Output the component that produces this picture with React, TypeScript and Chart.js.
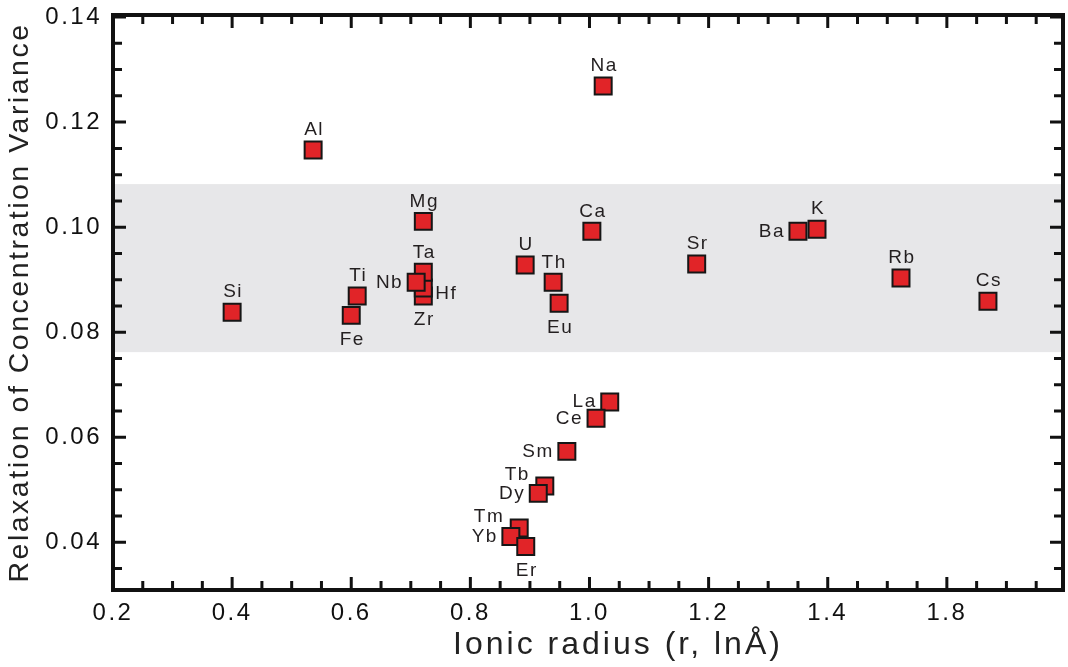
import React, { useEffect, useRef } from 'react';
import { Chart, registerables } from 'chart.js';

Chart.register(...registerables);

// ---- data ----
const elements = ['Si', 'Al', 'Na', 'Mg', 'Ti', 'Fe', 'Zr', 'Hf', 'Ta', 'Nb', 'U', 'Th', 'Eu', 'Ca', 'Sr', 'Ba', 'K', 'Rb', 'Cs', 'La', 'Ce', 'Sm', 'Tb', 'Dy', 'Tm', 'Yb', 'Er'];
const ionicRadius = [0.40, 0.536, 1.023, 0.721, 0.61, 0.60, 0.721, 0.721, 0.721, 0.709, 0.892, 0.939, 0.949, 1.004, 1.18, 1.35, 1.382, 1.523, 1.669, 1.034, 1.011, 0.962, 0.925, 0.914, 0.882, 0.868, 0.893];
const relaxation = [0.0838, 0.1147, 0.1269, 0.1011, 0.0869, 0.0832, 0.0869, 0.0884, 0.0914, 0.0895, 0.0928, 0.0895, 0.0855, 0.0992, 0.093, 0.0992, 0.0996, 0.0903, 0.0859, 0.0667, 0.0636, 0.0573, 0.0507, 0.0493, 0.0427, 0.0411, 0.0392];
const labelPlacement = ['top', 'top', 'top', 'top', 'top', 'bottom', 'bottom', 'lowright', 'top', 'left', 'top', 'top', 'bottom', 'top', 'top', 'left', 'top', 'top', 'top', 'left', 'left', 'left', 'upleft', 'left', 'upleft', 'left', 'bottom'];

const xTickValues = [0.2, 0.4, 0.6, 0.8, 1.0, 1.2, 1.4, 1.6];
const xTickLabels = ['0.2', '0.4', '0.6', '0.8', '1.0', '1.2', '1.4', '1.8'];
const yTickValues = [0.04, 0.06, 0.08, 0.10, 0.12, 0.14];
const yTickLabels = ['0.04', '0.06', '0.08', '0.10', '0.12', '0.14'];
const bandRange = [0.0762, 0.1082];
const xTitle = 'Ionic radius (r, lnÅ)';
const yTitle = 'Relaxation of Concentration Variance';

const FONT = '"Liberation Sans", Arial, Helvetica, sans-serif';

const framePlugin = {
  id: 'framePlugin',
  beforeDraw(chart: any) {
    (chart.ctx as any).letterSpacing = '2.5px';
  },
  beforeDatasetsDraw(chart: any) {
    const { ctx, chartArea, scales } = chart;
    const y = scales.y;
    const yTop = y.getPixelForValue(bandRange[1]);
    const yBot = y.getPixelForValue(bandRange[0]);
    ctx.save();
    ctx.fillStyle = '#e7e7e9';
    ctx.fillRect(chartArea.left, yTop, chartArea.right - chartArea.left, yBot - yTop);
    ctx.restore();
  },
  afterDatasetsDraw(chart: any) {
    const { ctx, chartArea, scales } = chart;
    const x = scales.x;
    const y = scales.y;
    const meta = chart.getDatasetMeta(0);
    ctx.save();
    // point labels
    (ctx as any).letterSpacing = '1.5px';
    ctx.font = `19px ${FONT}`;
    ctx.fillStyle = '#231f20';
    ctx.textBaseline = 'middle';
    meta.data.forEach((pt: any, i: number) => {
      const p = labelPlacement[i];
      let dx = 0, dy = 0, align: CanvasTextAlign = 'center';
      if (p === 'top') { dy = -20; }
      else if (p === 'bottom') { dy = 24; }
      else if (p === 'left') { dx = -13; align = 'right'; }
      else if (p === 'lowright') { dx = 12; dy = 6; align = 'left'; }
      else if (p === 'upleft') { dx = -15; dy = -11; align = 'right'; }
      ctx.textAlign = align;
      ctx.fillText(elements[i], pt.x + dx + (align === 'center' ? 1 : 0), pt.y + dy);
    });
    ctx.restore();

    // x axis title (offset to the right as in the original figure)
    ctx.save();
    (ctx as any).letterSpacing = '3px';
    ctx.font = `32px ${FONT}`;
    ctx.fillStyle = '#222';
    ctx.textAlign = 'center';
    ctx.textBaseline = 'middle';
    ctx.fillText(xTitle, (chartArea.left + chartArea.right) / 2 + 30, chartArea.bottom + 55);
    ctx.restore();

    // ticks + frame
    ctx.save();
    ctx.strokeStyle = '#111';
    ctx.lineWidth = 3;
    ctx.beginPath();
    for (let k = 5; k <= 35; k++) {
      const v = k * 0.05;
      if (v > x.max) break;
      const px = x.getPixelForValue(v);
      const len = k % 4 === 0 ? 13 : 9;
      ctx.moveTo(px, chartArea.bottom);
      ctx.lineTo(px, chartArea.bottom - len);
      ctx.moveTo(px, chartArea.top);
      ctx.lineTo(px, chartArea.top + len);
    }
    for (let k = 7; k <= 28; k++) {
      const v = k * 0.005;
      const py = y.getPixelForValue(v);
      const len = k % 4 === 0 ? 13 : 9;
      ctx.moveTo(chartArea.left, py);
      ctx.lineTo(chartArea.left + len, py);
      ctx.moveTo(chartArea.right, py);
      ctx.lineTo(chartArea.right - len, py);
    }
    ctx.stroke();
    ctx.lineWidth = 4;
    ctx.strokeRect(chartArea.left, chartArea.top, chartArea.right - chartArea.left, chartArea.bottom - chartArea.top);
    ctx.restore();
  },
};

export default function App() {
  const ref = useRef<HTMLCanvasElement | null>(null);
  useEffect(() => {
    if (!ref.current) return;
    const data = ionicRadius.map((r, i) => ({ x: r, y: relaxation[i] }));
    const chart = new Chart(ref.current, {
      type: 'scatter',
      data: {
        datasets: [
          {
            data,
            pointStyle: 'rect',
            pointRadius: 12,
            pointHoverRadius: 12,
            backgroundColor: '#e12428',
            borderColor: '#161616',
            borderWidth: 2,
          },
        ],
      },
      options: {
        animation: false,
        responsive: false,
        devicePixelRatio: 1,
        layout: { autoPadding: false, padding: { top: 15, right: 5, bottom: 0, left: 0 } },
        plugins: { legend: { display: false }, tooltip: { enabled: false } },
        scales: {
          x: {
            type: 'linear',
            min: 0.2,
            max: 1.795,
            afterBuildTicks: (s: any) => {
              s.ticks = xTickValues.map((v) => ({ value: v }));
            },
            afterFit: (s: any) => {
              s.height = 77;
              s.paddingLeft = 0;
              s.paddingRight = 0;
              s.paddingTop = 0;
              s.paddingBottom = 0;
            },
            grid: { display: false, drawTicks: false },
            border: { display: false },
            ticks: {
              autoSkip: false,
              maxRotation: 0,
              padding: 9,
              color: '#111',
              font: { family: FONT, size: 24 },
              callback: (_v: any, i: number) => xTickLabels[i],
            },
            title: { display: false },
          },
          y: {
            type: 'linear',
            min: 0.0309,
            max: 0.1404,
            afterBuildTicks: (s: any) => {
              s.ticks = yTickValues.map((v) => ({ value: v }));
            },
            afterFit: (s: any) => {
              s.width = 113;
              s.paddingLeft = 0;
              s.paddingRight = 0;
              s.paddingTop = 0;
              s.paddingBottom = 0;
            },
            grid: { display: false, drawTicks: false },
            border: { display: false },
            ticks: {
              autoSkip: false,
              padding: 11,
              color: '#111',
              font: { family: FONT, size: 24 },
              callback: (_v: any, i: number) => yTickLabels[i],
            },
            title: {
              display: true,
              text: yTitle,
              color: '#222',
              font: { family: FONT, size: 28.5 },
              padding: { top: 3, bottom: 0 },
            },
          },
        },
      },
      plugins: [framePlugin],
    });
    return () => chart.destroy();
  }, []);
  return (
    <div style={{ position: 'fixed', left: 0, top: 0, width: 1068, height: 667, background: '#fff' }}>
      <canvas ref={ref} width={1068} height={667} style={{ display: 'block', width: 1068, height: 667 }} />
    </div>
  );
}
